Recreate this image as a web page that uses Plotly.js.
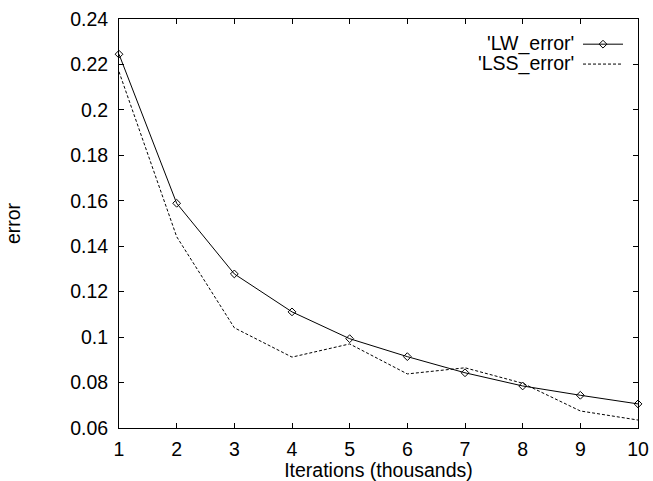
<!DOCTYPE html>
<html>
<head>
<meta charset="utf-8">
<script src="https://cdn.plot.ly/plotly-3.0.1.min.js"></script>
<style>html,body{margin:0;padding:0;background:#fff;}#chart{width:653px;height:481px;}</style>
</head>
<body>
<div id="chart"></div>
<script>
const iterations = [1, 2, 3, 4, 5, 6, 7, 8, 9, 10];
const lwError = [0.2245, 0.1589, 0.1278, 0.1111, 0.0993, 0.0914, 0.0843, 0.0785, 0.0744, 0.0706];
const lssError = [0.2168, 0.1442, 0.1041, 0.0912, 0.0970, 0.0838, 0.0865, 0.0797, 0.0675, 0.0635];
const seriesNames = ["'LW_error'", "'LSS_error'"];
const xTitle = "Iterations (thousands)";
const yTitle = "error";

const FONT = "Liberation Sans, Arial, Helvetica, sans-serif";
const FS = 19.5;

const traces = [
  {
    x: iterations, y: lwError, type: 'scatter', mode: 'lines+markers', name: ' ',
    line: {color: '#000', width: 1},
    marker: {symbol: 'diamond-open', size: 6, color: '#000', line: {width: 1, color: '#000'}},
    cliponaxis: false
  },
  {
    x: iterations, y: lssError, type: 'scatter', mode: 'lines', name: ' ',
    line: {color: '#000', width: 1, dash: '3px,2px'},
    cliponaxis: false
  }
];

const axisCommon = {
  showgrid: false, zeroline: false, showline: true, linecolor: '#000', linewidth: 1,
  mirror: 'ticks', ticks: 'inside', ticklen: 5, tickcolor: '#000', tickwidth: 1,
  tickfont: {family: FONT, size: FS, color: '#000'}
};

const layout = {
  width: 653, height: 481,
  margin: {l: 119, r: 15, t: 19, b: 53, pad: 0},
  paper_bgcolor: '#fff', plot_bgcolor: '#fff',
  font: {family: FONT, size: FS, color: '#000'},
  xaxis: Object.assign({}, axisCommon, {
    range: [1, 10], tickmode: 'linear', tick0: 1, dtick: 1, ticklabelstandoff: 4,
    title: {text: xTitle, font: {family: FONT, size: FS, color: '#000'}, standoff: 0}
  }),
  yaxis: Object.assign({}, axisCommon, {
    range: [0.06, 0.24], tickmode: 'linear', tick0: 0.06, dtick: 0.02, ticklabelstandoff: 6,
    title: {text: yTitle, font: {family: FONT, size: FS, color: '#000'}, standoff: 44}
  }),
  showlegend: true,
  legend: {
    x: (578 - 119) / 519, xanchor: 'left', y: 0.975, yanchor: 'top',
    bgcolor: 'rgba(0,0,0,0)', borderwidth: 0, itemwidth: 40,
    font: {family: FONT, size: 13, color: '#000'}, tracegroupgap: 0
  },
  annotations: seriesNames.map((n, i) => ({
    text: n, xref: 'paper', yref: 'paper', x: (576 - 119) / 519,
    y: (428 - (43 + 20 * i)) / 409, xanchor: 'right', yanchor: 'middle',
    showarrow: false, font: {family: FONT, size: FS, color: '#000'}
  }))
};

Plotly.newPlot('chart', traces, layout, {displayModeBar: false, staticPlot: true});
</script>
</body>
</html>
